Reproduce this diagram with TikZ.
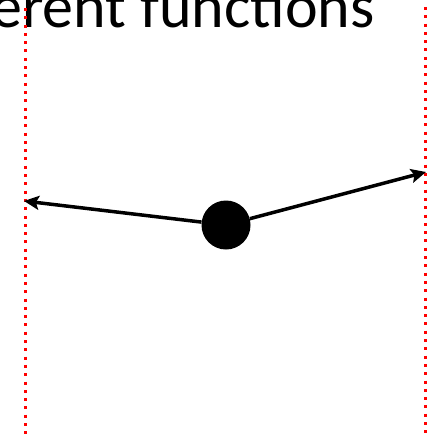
\documentclass[tikz,border=0pt]{standalone}
\usepackage{fontspec}
\setmainfont{Carlito}
\usetikzlibrary{arrows.meta}
\begin{document}
\begin{tikzpicture}[x=1pt,y=-1pt,
  reddots/.style={draw=red,line width=3pt,dash pattern=on 3pt off 5.3pt},
  arr/.style={line width=3.5pt,-{Stealth[length=15pt,width=14pt,inset=3pt]}},
  bigdot/.style={circle,fill=black,inner sep=0pt,minimum size=49pt},
  title/.style={inner sep=0pt,font=\fontsize{62}{62}\selectfont}]
\useasboundingbox (0,0) rectangle (444,436);
\clip (0,0) rectangle (444,436);
\node[title,anchor=base east] (t) at (375,28) {erent functions};
\coordinate (lt) at (25.7,8);
\coordinate (lb) at (25.7,440);
\coordinate (rt) at (425.7,7);
\coordinate (rb) at (425.7,440);
\draw[reddots] (lt) -- (lb);
\draw[reddots] (rt) -- (rb);
\node[bigdot] (d) at (226,225) {};
\coordinate (l) at (24,201);
\coordinate (r) at (426,172);
\draw[arr] (d) -- (l);
\draw[arr] (d) -- (r);
\end{tikzpicture}
\end{document}
